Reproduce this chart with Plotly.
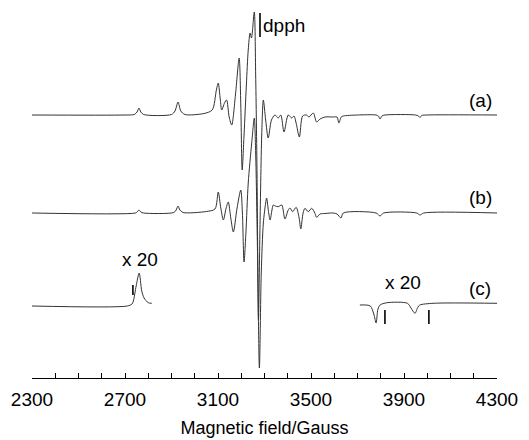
import plotly.graph_objects as go

# ---- data (field in Gauss, amplitude in display units above each baseline) ----
field_a = [2300, 2700, 2740, 2752, 2760, 2768, 2780, 2900, 2915, 2928, 2940, 2958, 3040, 3075,
           3093, 3101, 3110, 3116, 3128, 3137, 3148, 3159, 3175, 3191, 3198, 3204, 3212, 3222,
           3230, 3238, 3244, 3256, 3262, 3268, 3274, 3280, 3288, 3295, 3305, 3316, 3330, 3345,
           3359, 3370, 3384, 3402, 3417, 3427, 3436, 3450, 3464, 3481, 3491, 3510, 3524, 3539,
           3560, 3596, 3612, 3620, 3630, 3639, 3700, 3780, 3790, 3797, 3805, 3818, 3950, 3962,
           3969, 3976, 4000, 4300]
amp_a = [0, 0, 0.5, 3, 7, 3, 0.5, 0.5, 4, 13, 4, 0.5, 1.5, 5,
         25, 32, 15, 5, 12, 15, -2, -10, 20, 57, 10, -55, -20, 30,
         65, 82, 77, 103, 40, -60, -205, -120, -20, 15, -5, -23, -5, 0,
         -3, 0, -17, 0, -3, -1, -8, -22, -1, 0, -2, 2, -7, -4,
         -2, -2, -2, -8, -2, -1, 0, 0, -1, -4, -1, 0, 0, -1,
         -2.5, -0.5, 0, 0]

field_b = [2300, 2745, 2752, 2760, 2768, 2780, 2910, 2920, 2928, 2936, 2950, 3050, 3087,
           3101, 3112, 3123, 3135, 3144, 3155, 3166, 3182, 3198, 3205, 3212, 3220, 3230, 3245,
           3256, 3262, 3270, 3278, 3286, 3295, 3305, 3309, 3318, 3324, 3338, 3346, 3359, 3374,
           3388, 3402, 3410, 3421, 3436, 3449, 3456, 3466, 3474, 3488, 3503, 3517, 3524, 3539,
           3560, 3596, 3612, 3629, 3639, 3780, 3797, 3812, 3955, 3969, 3985, 4300]
amp_b = [0, 0, 1, 3, 1, 0, 0.5, 3, 7, 3, 0.5, 1.5, 4,
         21, 5, -7, 5, 11, -5, -19, 5, 23, 0, -49, -20, 30, 70,
         95, 60, -40, -155, -60, -10, 10, 15, 0, -7, 8, 7, 6.3, 8,
         -6, 3, 5, 1.3, 5.7, -5, -16, 0, 4.7, 1.3, 4.7, -0.3, -4.3, -1,
         -0.5, 0, -1, -5, 0, 0, -3, 0, 0, -2, 0, 0]

field_c_left = [2300, 2710, 2730, 2736, 2748, 2761, 2772, 2782, 2800, 2815]
amp_c_left = [0, 0, 2, 5, 20, 33, 15, 8, 3.3, 2.7]

field_c_right = [3710, 3755, 3770, 3780, 3788, 3797, 3827, 3915, 3930, 3947, 3960, 3968, 4025, 4300]
amp_c_right = [1, 0, -8, -17, -3, 1, 3.3, 2.7, -2, -7.3, -1, 1, 2.7, 2.7]

c_marker_fields = [2734, 3818, 4007]
dpph_field = 3280.6

tick_fields = list(range(2300, 4301, 100))
tick_labels = ["2300", "", "", "", "2700", "", "", "", "3100", "", "", "", "3500", "", "", "",
               "3900", "", "", "", "4300"]

# ---- layout constants ----
BASE_A, BASE_B, BASE_C = 263, 165, 72
LINE = dict(color="#333333", width=1, shape="spline", smoothing=0.8)
FONT = "Liberation Sans, Arial, sans-serif"

fig = go.Figure()
for fx, amp, base in [(field_a, amp_a, BASE_A), (field_b, amp_b, BASE_B),
                      (field_c_left, amp_c_left, BASE_C), (field_c_right, amp_c_right, BASE_C)]:
    fig.add_trace(go.Scatter(x=fx, y=[v + base for v in amp], mode="lines", line=LINE,
                             hoverinfo="skip", showlegend=False))

shapes = []
# marker bars on trace (c)
shapes.append(dict(type="line", xref="x", yref="y", x0=c_marker_fields[0], x1=c_marker_fields[0],
                   y0=BASE_C + 11, y1=BASE_C + 21, line=dict(color="black", width=1.6)))
for f in c_marker_fields[1:]:
    shapes.append(dict(type="line", xref="x", yref="y", x0=f, x1=f,
                       y0=BASE_C - 18, y1=BASE_C - 4, line=dict(color="black", width=1.6)))
# dpph bar
shapes.append(dict(type="line", xref="x", yref="y", x0=dpph_field, x1=dpph_field,
                   y0=341, y1=365, line=dict(color="black", width=1.6)))

ann_font = dict(family=FONT, size=19, color="black")
annotations = [
    dict(x=dpph_field, y=353, text="dpph", xanchor="left", yanchor="middle", xshift=1,
         showarrow=False, font=ann_font),
    dict(x=4228, y=BASE_A + 15, text="(a)", showarrow=False, font=ann_font),
    dict(x=4228, y=BASE_B + 16, text="(b)", showarrow=False, font=ann_font),
    dict(x=4228, y=BASE_C + 18, text="(c)", showarrow=False, font=ann_font),
    dict(x=2764, y=BASE_C + 47, text="x 20", showarrow=False, font=ann_font),
    dict(x=3896, y=BASE_C + 24, text="x 20", showarrow=False, font=ann_font),
]

fig.update_layout(
    width=529, height=440,
    margin=dict(l=32, r=32, t=0, b=62),
    paper_bgcolor="white", plot_bgcolor="white",
    shapes=shapes, annotations=annotations,
    xaxis=dict(range=[2300, 4300], tickmode="array", tickvals=tick_fields, ticktext=tick_labels,
               ticks="inside", ticklen=5, tickwidth=1, tickcolor="black",
               showline=True, linecolor="black", linewidth=1, showgrid=False, zeroline=False,
               ticklabelstandoff=4,
               tickfont=dict(family=FONT, size=19, color="black"),
               title=dict(text="Magnetic field/Gauss", standoff=12,
                          font=dict(family=FONT, size=18, color="black"))),
    yaxis=dict(range=[0, 378], visible=False, showgrid=False, zeroline=False),
)

fig.write_html("out.html")
